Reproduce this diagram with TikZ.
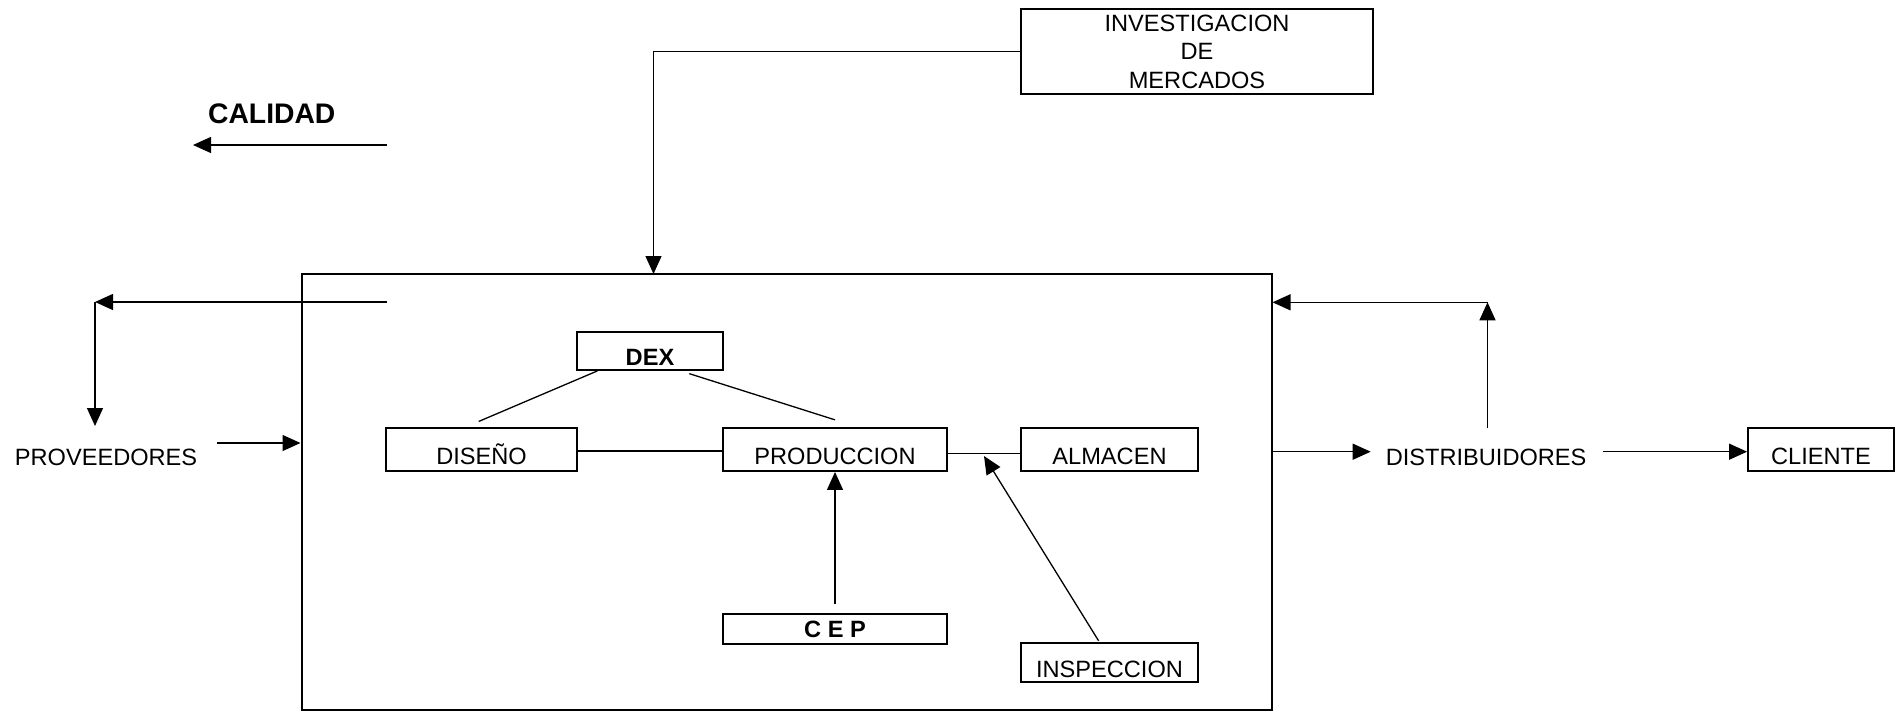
\documentclass[tikz,border=0pt]{standalone}
\usepackage{fontspec}
\setmainfont{Liberation Sans}
\usetikzlibrary{arrows.meta,calc}
\begin{document}
\begin{tikzpicture}[x=0.5pt,y=-0.5pt,
  box/.style={draw,line width=0.9pt,inner sep=0pt,font=\fontsize{11.8}{15}\selectfont},
  boldbox/.style={box,font=\fontsize{11.8}{15}\selectfont\bfseries},
  lbl/.style={inner sep=0pt,font=\fontsize{11.8}{15}\selectfont},
  conn/.style={line width=0.65pt},
  arr/.style={conn,-{Triangle[length=9pt,width=8pt]}}]
\useasboundingbox (0,0) rectangle (1901,712);

% main box
\node[draw,line width=1pt,minimum width=485pt,minimum height=218pt,inner sep=0pt] (bb) at (786.5,492.3) {};

% boxes
\node[box,minimum width=95.3pt,text height=18.15pt,text depth=3.5pt] (dis) at (481.6,449.4) {DISEÑO};
\node[box,minimum width=112pt,text height=18.15pt,text depth=3.5pt] (prod) at (835,449.4) {PRODUCCION};
\node[box,minimum width=88.5pt,text height=18.15pt,text depth=3.5pt] (alm) at (1109.5,449.4) {ALMACEN};
\node[box,minimum width=73pt,text height=18.15pt,text depth=3.5pt] (cli) at (1821,449.4) {CLIENTE};
\node[boldbox,minimum width=73.2pt,text height=16.65pt,text depth=2.5pt] (dex) at (650,350.9) {DEX};
\node[boldbox,minimum width=112pt,text height=11.5pt,text depth=3.35pt] (cep) at (835,629.2) {C E P};
\node[box,minimum width=88.5pt,text height=16.85pt,text depth=2.35pt] (insp) at (1109.5,662.5) {INSPECCION};
\node[box,minimum width=176.3pt,minimum height=42.65pt,align=center,font=\fontsize{11.8}{14.4}\selectfont] (inv) at (1197,51.7) {INVESTIGACION\\DE\\MERCADOS};

% free texts
\node[lbl,anchor=base west,font=\fontsize{14.15}{17}\selectfont\bfseries] (cal) at (207.7,123.3) {CALIDAD};
\node[lbl,anchor=base west] (prov) at (14.5,465) {PROVEEDORES};
\node[lbl,anchor=base west] (dist) at (1385.4,465) {DISTRIBUIDORES};

% free ends
\coordinate (calA) at (387,145);
\coordinate (calB) at (193,145);
\coordinate (supA) at (387,302);
\coordinate (supB) at (95,302);
\coordinate (supC) at (95,426);
\coordinate (provA) at (217,443);
\coordinate (invT) at (653.5,274);
\coordinate (pa) at (984,456);
\coordinate (distIn) at (1370.7,451.7);
\coordinate (distOut) at (1602.6,451.7);
\coordinate (distUp) at (1487.5,428.3);
\coordinate (distTop) at (1487.5,302.3);

% connectors
\draw[arr] (calA) -- (calB);
\draw[arr] (supA) -- (supB);
\draw[arr] (supB) -- (supC);
\draw[arr] (provA) -- (provA -| bb.west);
\draw[arr] (inv.west) -| (invT);
\draw[conn] ([xshift=10.7pt]dex.south west) -- ([xshift=-1.45pt,yshift=2.7pt]dis.north);
\draw[conn] ([xshift=-17.4pt,yshift=-1.35pt]dex.south east) -- ([yshift=3.5pt]prod.north);
\draw[conn] ([yshift=-0.8pt]dis.east) -- ([yshift=-0.8pt]prod.west);
\draw[conn] ([yshift=-2.1pt]prod.east) -- ([yshift=-2.1pt]alm.west);
\draw[arr] ([yshift=4.65pt]cep.north) -- (prod.south);
\draw[arr] ([xshift=-5.45pt,yshift=0.8pt]insp.north) -- (pa);
\draw[arr] (distIn -| bb.east) -- (distIn);
\draw[arr] (distOut) -- (distOut -| cli.west);
\draw[arr] (distUp) -- (distTop);
\draw[arr] (distTop) -- (distTop -| bb.east);
\end{tikzpicture}
\end{document}
